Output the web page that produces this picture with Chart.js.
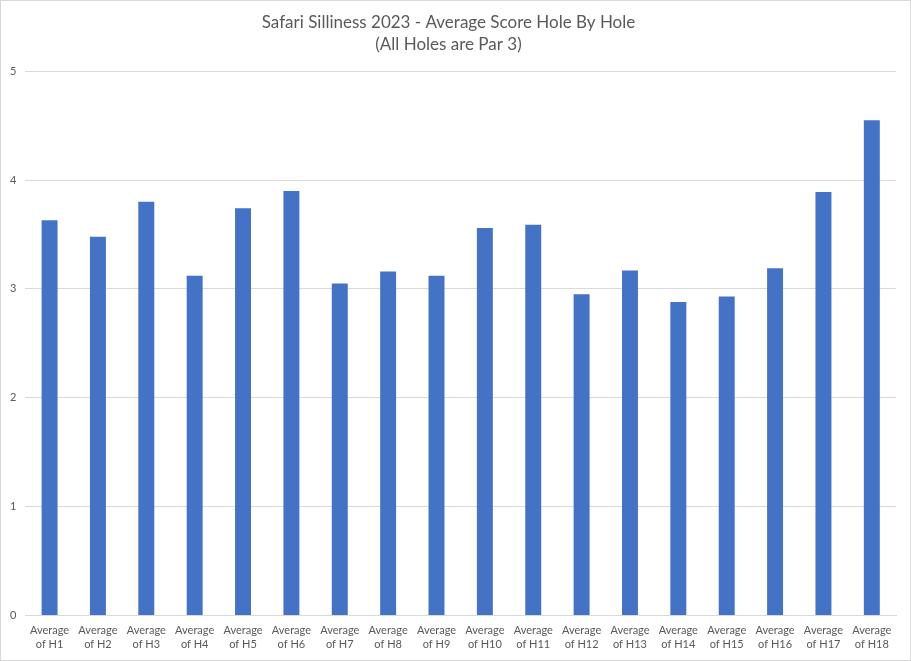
<!DOCTYPE html>
<html>
<head>
  <meta charset="UTF-8" />
  <title>Safari Silliness 2023</title>
  <script src="https://cdn.jsdelivr.net/npm/chart.js"></script>
  <style>
    html, body { margin: 0; padding: 0; background: white; }
    .frame {
      position: relative;
      width: 909px; height: 659px;
      border: 1px solid #d9d9d9;
      background: white;
    }
  </style>
</head>
<body>
  <div class="frame">
    <canvas id="holeChart" width="909" height="659"></canvas>
  </div>
  <script>
    const holes = ['H1','H2','H3','H4','H5','H6','H7','H8','H9','H10','H11','H12','H13','H14','H15','H16','H17','H18'];
    const avgScores = [3.63, 3.48, 3.80, 3.12, 3.74, 3.90, 3.05, 3.16, 3.12, 3.56, 3.59, 2.95, 3.17, 2.88, 2.93, 3.19, 3.89, 4.55];
    const yTicks = [0, 1, 2, 3, 4, 5];
    const titleLines = ['Safari Silliness 2023 - Average Score Hole By Hole', '(All Holes are Par 3)'];

    const grey = '#595959';
    const fontFam = 'Lato, "Open Sans", sans-serif';

    new Chart(document.getElementById('holeChart'), {
      type: 'bar',
      data: {
        labels: holes.map(h => ['Average', 'of ' + h]),
        datasets: [{
          data: avgScores,
          backgroundColor: '#4472c4',
          categoryPercentage: 1,
          barPercentage: 0.33
        }]
      },
      options: {
        responsive: false,
        animation: false,
        layout: { padding: { left: 0, right: 14, top: 6, bottom: 8 } },
        plugins: {
          legend: { display: false },
          tooltip: { enabled: false },
          title: {
            display: true,
            text: titleLines,
            color: grey,
            font: { family: fontFam, size: 17, weight: 'normal', lineHeight: 1.3 },
            padding: { top: 4, bottom: 16 }
          }
        },
        scales: {
          x: {
            grid: { display: false },
            border: { color: '#d9d9d9' },
            ticks: {
              color: grey,
              font: { family: fontFam, size: 11, lineHeight: 1.3 },
              maxRotation: 0,
              autoSkip: false,
              padding: 0
            }
          },
          y: {
            min: 0,
            max: 5,
            afterBuildTicks: axis => { axis.ticks = yTicks.map(v => ({ value: v })); },
            grid: { color: '#d9d9d9', drawTicks: false },
            border: { display: false },
            ticks: {
              color: grey,
              font: { family: fontFam, size: 11 },
              padding: 9
            }
          }
        }
      }
    });
  </script>
</body>
</html>
